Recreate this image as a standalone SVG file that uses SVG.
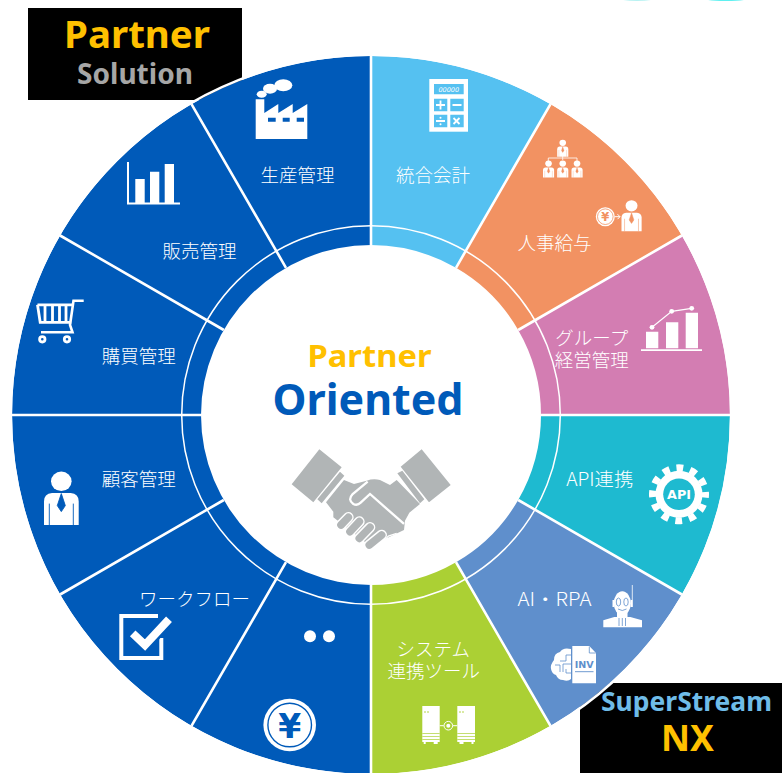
<svg xmlns="http://www.w3.org/2000/svg" width="782" height="773" viewBox="0 0 782 773">
<style>
.lb{font-family:"Noto Sans CJK JP","Liberation Sans",sans-serif;font-size:18.5px;font-weight:300;fill:#fff;text-anchor:middle}
.hd{font-family:"Noto Sans","Liberation Sans",sans-serif;font-weight:700;text-anchor:middle}
.ic{font-family:"DejaVu Sans",sans-serif;font-weight:700;text-anchor:middle}
.w{fill:#fff}
.b{fill:#005ab9}
.sp{stroke:#fff;stroke-width:2.6;fill:none}
.gr{fill:#b1b5b6}
</style>
<defs>
<g id="person">
<ellipse cx="17.3" cy="9.7" rx="10.3" ry="9.7" fill="#fff"/>
<path d="M0 53.4V30q0-8 8-8.5h18.7q8 .5 8 8.5v23.4z" fill="#fff"/>
<path d="M17.3 22l-4 12 4 6 4-6zM5.3 32v21.4M29.3 32v21.4" fill="currentColor" stroke="currentColor" stroke-width=".9"/>
</g>
</defs>
<ellipse cx="637" cy="-3" rx="21" ry="4" fill="#b8f2f2"/>
<ellipse cx="726" cy="-3" rx="27" ry="4" fill="#5ff0f0"/>
<g id="badge-partner-solution">
<rect x="28" y="8" width="214" height="92" fill="#000"/>
<text class="hd" x="137" y="47.5" font-size="37" fill="#ffc000" textLength="146" lengthAdjust="spacingAndGlyphs">Partner</text>
<text class="hd" x="135" y="84" font-size="28" fill="#a6a6a6" textLength="116" lengthAdjust="spacingAndGlyphs">Solution</text>
</g>
<g id="badge-superstream-nx">
<rect x="580" y="683" width="202" height="90" fill="#000"/>
</g>
<g id="wheel-sectors">
<path id="sector-accounting" d="M371 56A359 359 0 0 1 550.5 104.1L456 267.8A170 170 0 0 0 371 245z" fill="#55c1f1"/>
<path id="sector-hr" d="M550.5 104.1A359 359 0 0 1 681.9 235.5L518.2 330A170 170 0 0 0 456 267.8z" fill="#f29262"/>
<path id="sector-group" d="M681.9 235.5A359 359 0 0 1 730 415H541A170 170 0 0 0 518.2 330z" fill="#d37db2"/>
<path id="sector-api" d="M730 415A359 359 0 0 1 681.9 594.5L518.2 500A170 170 0 0 0 541 415z" fill="#1ebad0"/>
<path id="sector-ai" d="M681.9 594.5A359 359 0 0 1 550.5 725.9L456 562.2A170 170 0 0 0 518.2 500z" fill="#5f8fcc"/>
<path id="sector-system" d="M550.5 725.9A359 359 0 0 1 371 774V585A170 170 0 0 0 456 562.2z" fill="#abd034"/>
<path id="sector-left" d="M371 774A359 359 0 1 1 371 56V245A170 170 0 1 0 371 585z" fill="#005ab9"/>
<circle cx="371" cy="415" r="360.2" fill="none" stroke="#fff" stroke-width="2.6"/>
</g>
<g id="connectors">
<circle cx="371" cy="415" r="189.3" fill="none" stroke="#fff" stroke-width="1.5"/>
<path class="sp" d="M371 56V245M550.5 104.1L456 267.8M681.9 235.5L518.2 330M730 415H541M681.9 594.5L518.2 500M550.5 725.9L456 562.2M371 774V585M191.5 725.9L286 562.2M60.1 594.5L223.8 500M12 415H201M60.1 235.5L223.8 330M191.5 104.1L286 267.8"/>
</g>
<g id="node-production">
<path class="w" d="M255.7 99.3h8.6V113l14-9v9l14.4-9v9l14.6-9v35H255.7z"/>
<path class="b" d="M268 117.7h7.7v4H268zM282.7 117.7h7v4h-7zM296.7 117.7h7.3v4h-7.3z"/>
<ellipse class="w" cx="261.7" cy="94.3" rx="5" ry="3.5"/><ellipse class="w" cx="270" cy="88.7" rx="7" ry="5"/><ellipse class="w" cx="283.3" cy="85.3" rx="9" ry="6"/>
<text class="lb" x="297.500" y="181.500">生産管理</text>
</g>
<g id="node-sales">
<path class="w" d="M127 162h2v40.500h51v2h-53zM135.300 179h9.400v23.500h-9.400zM150 171.700h9.300v30.800H150zM164.700 164H174v38.500h-9.300z"/>
<text class="lb" x="199.500" y="258">販売管理</text>
</g>
<g id="node-purchasing">
<path d="M83.700 300.700H73.500L70 325l2.500 7.300H41" fill="none" stroke="#fff" stroke-width="2.600"/>
<path d="M37.500 304.800H72M37.500 304.800l2.700 17.500h31M45 305v17M52.500 305v17M59.500 305v17M66 305v17" fill="none" stroke="#fff" stroke-width="2.800"/>
<circle cx="42.300" cy="339.300" r="2.700" fill="none" stroke="#fff" stroke-width="2.800"/><circle cx="67" cy="339.300" r="2.700" fill="none" stroke="#fff" stroke-width="2.800"/>
<text class="lb" x="138.700" y="362.500">購買管理</text>
</g>
<g id="node-customer">
<use href="#person" transform="translate(44,471.600)" color="#005ab9"/>
<text class="lb" x="138.700" y="485.500">顧客管理</text>
</g>
<g id="node-workflow">
<path d="M158 616H121.300V658H161.300V638" fill="none" stroke="#fff" stroke-width="4"/>
<path d="M132.700 633.300L145 645L169 619.300" fill="none" stroke="#005ab9" stroke-width="13"/>
<path d="M132.700 633.300L145 645L169 619.300" fill="none" stroke="#fff" stroke-width="8"/>
<text class="lb" x="194.500" y="605.500">ワークフロー</text>
</g>
<g id="node-expense">
<circle class="w" cx="310" cy="636.300" r="6"/><circle class="w" cx="329" cy="636.300" r="6"/>
<circle class="w" cx="289.700" cy="725" r="26.300"/>
<circle cx="289.700" cy="725" r="21.800" fill="none" stroke="#005ab9" stroke-width="1.400"/>
<text class="ic" x="289.700" y="737.500" font-size="33" fill="#005ab9">¥</text>
</g>
<g id="node-accounting">
<rect class="w" x="429.300" y="79" width="38.700" height="52.700"/>
<path d="M434 84h29.700v10.300H434zM434 98.700h13.300v12.600H434zM450.300 98.700h13.400v12.600h-13.400zM434 114.700h13.300v12.600H434zM450.300 114.700h13.400v12.600h-13.400z" fill="#55c1f1"/>
<text x="448.800" y="91.700" font-family="'DejaVu Sans',sans-serif" font-style="italic" font-size="6.500" fill="#fff" text-anchor="middle">00000</text>
<path d="M436 105h9M440.500 100.500v9M452.500 105h9M436 121h9M453.500 118l6 6M459.500 118l-6 6" stroke="#fff" stroke-width="1.800" fill="none"/>
<circle class="w" cx="440.500" cy="117.700" r="1"/><circle class="w" cx="440.500" cy="124.300" r="1"/>
<text class="lb" x="433" y="181.500">統合会計</text>
</g>
<g id="node-hr">
<g color="#f29262">
<use href="#person" transform="translate(557.200,139.700) scale(.32)"/>
<use href="#person" transform="translate(543,160.500) scale(.32)"/>
<use href="#person" transform="translate(557.200,160.500) scale(.32)"/>
<use href="#person" transform="translate(571.500,160.500) scale(.32)"/>
<use href="#person" transform="translate(621.500,200.200) scale(.58)"/>
</g>
<path d="M562.700 156v4M548.300 161v-3h28.700v3" fill="none" stroke="#fff" stroke-width=".8"/>
<circle class="w" cx="605.300" cy="216.700" r="9.500"/>
<circle cx="605.300" cy="216.700" r="7.800" fill="none" stroke="#f29262" stroke-width=".8"/>
<text class="ic" x="605.300" y="221" font-size="11.500" fill="#f29262">¥</text>
<path d="M615 216.700h5M617.500 214.200l2.500 2.500-2.500 2.500" fill="none" stroke="#fff" stroke-width="1"/>
<text class="lb" x="554.500" y="249.500">人事給与</text>
</g>
<g id="node-group">
<path class="w" d="M646 331.700h12.300v16.600H646zM666 322.300h12.300v26H666zM685.700 312.700H698v35.600h-12.300zM641 349.300h61v1.600h-61z"/>
<path d="M652 327.300L671.700 311.300L691.700 308.300" fill="none" stroke="#fff" stroke-width="1.200"/>
<circle class="w" cx="652" cy="327.300" r="2.400"/><circle class="w" cx="671.700" cy="311.300" r="2.400"/><circle class="w" cx="691.700" cy="308.300" r="2.400"/>
<text class="lb" x="591.700" y="344.500">グループ</text>
<text class="lb" x="591.700" y="366.500">経営管理</text>
</g>
<g id="node-api">
<circle class="w" cx="679" cy="494.300" r="23.500"/>
<circle cx="679" cy="494.300" r="26.500" fill="none" stroke="#fff" stroke-width="7" stroke-dasharray="6.940 6.940" stroke-dashoffset="3.470"/>
<circle cx="679" cy="494.300" r="15.800" fill="#1ebad0"/>
<text class="ic" x="679" y="499" font-size="12.500" fill="#fff" textLength="24" lengthAdjust="spacingAndGlyphs">API</text>
<text class="lb" x="599.700" y="485.500" textLength="67" lengthAdjust="spacingAndGlyphs">API連携</text>
</g>
<g id="node-ai">
<path class="w" d="M603.300 627.300v-7l11-3.300h16l11.700 3.300v7z"/>
<ellipse class="w" cx="622.300" cy="603.300" rx="8.500" ry="12"/>
<path class="w" d="M612.500 600h2v7h-2zM630.500 600h2v7h-2zM617 612h10.500v6H617z"/>
<path d="M632.300 585v22" stroke="#fff" stroke-width=".8"/>
<ellipse cx="618.500" cy="602" rx="2.200" ry="4" fill="none" stroke="#5f8fcc" stroke-width=".8"/>
<ellipse cx="626" cy="602" rx="2.200" ry="4" fill="none" stroke="#5f8fcc" stroke-width=".8"/>
<path d="M618 609q4.300 3 8.500 0M619 618v8M622.300 618v8M625.500 618v8" fill="none" stroke="#5f8fcc" stroke-width=".8"/>
<path class="w" d="M572.300 646h17l6.700 7v30.300h-23.700z"/>
<path d="M589.300 646.500v6.500h6.500" fill="none" stroke="#5f8fcc" stroke-width=".8"/>
<text class="ic" x="584.300" y="668.300" font-size="9" fill="#5f8fcc" textLength="19" lengthAdjust="spacingAndGlyphs">INV</text>
<path d="M575 671.700h18.500" stroke="#5f8fcc" stroke-width=".9"/>
<path class="w" d="M571 649q-8-2-11 3-6 1-6 8-4 5-3 9 1 5 5 6 2 5 7 5 5 2 8-1z"/>
<path d="M571 655h-5v6h-6M571 664h-8v8M571 673h-5v-4M555 665h5v7" fill="none" stroke="#5f8fcc" stroke-width=".8"/>
<text class="lb" x="554.500" y="606" textLength="74" lengthAdjust="spacingAndGlyphs">AI・RPA</text>
</g>
<g id="node-system">
<path class="w" d="M422.300 706h17.400v36h-2v2h-4v-2h-8v2h-2v-2h-1.400zM457.300 706H475v36h-1.500v2h-2v-2h-8v2h-4v-2h-2.200z"/>
<path d="M424 712h2M427 712h2M459 712h2M462 712h2" stroke="#abd034" stroke-width=".9"/>
<path d="M422.300 733.500h17.400M422.300 736.500h17.400M422.300 739.500h17.400M457.300 733.500H475M457.300 736.500H475M457.300 739.500H475" stroke="#abd034" stroke-width=".7"/>
<path d="M439.700 725.700h4M453 725.700h4.300" stroke="#fff" stroke-width="1"/>
<circle cx="448.300" cy="725.700" r="4.300" fill="none" stroke="#fff" stroke-width="1"/>
<circle class="w" cx="448.300" cy="725.700" r="2"/>
<text class="lb" x="433.300" y="655.500">システム</text>
<text class="lb" x="433.700" y="677.500">連携ツール</text>
</g>
<g id="node-center">
<text class="hd" x="369.500" y="367" font-size="31" fill="#ffc000" textLength="124" lengthAdjust="spacingAndGlyphs">Partner</text>
<text class="hd" x="368" y="414.700" font-size="43" fill="#005ab9" textLength="191" lengthAdjust="spacingAndGlyphs">Oriented</text>
<g transform="translate(200,330) scale(.33333)">
<path class="gr" d="M358 358L425 412L340 517L275 463zM420 425L433 437L365 520L352 508zM665 358L752 465L687 517L602 410zM592 430L607 422L673 508L660 520z"/>
<path class="gr" d="M432 450L378 517L400 545L400 562L500 640L560 625L612 600L615 572L628 548L660 522L590 450L570 465L540 450Q520 445 500 452L462 462z"/>
<g fill="none" stroke-linecap="round">
<path d="M423 585L445 562M450 605L478 575M478 625L510 592M508 645L545 615" stroke="#fff" stroke-width="32"/>
<path d="M423 585L445 562M450 605L478 575M478 625L510 592M508 645L545 615" stroke="#b1b5b6" stroke-width="23"/>
</g>
<path d="M503 455L458 492Q442 510 460 522Q472 528 482 518L510 492L612 582" fill="none" stroke="#fff" stroke-width="7"/>
<path d="M545 640L565 618L590 610" fill="none" stroke="#fff" stroke-width="4"/>
</g>
</g>
<text class="hd" x="686.500" y="711" font-size="26" fill="#6fbce8" textLength="171" lengthAdjust="spacingAndGlyphs">SuperStream</text>
<text class="hd" x="687.500" y="750.700" font-size="36" fill="#ffc000" textLength="53" lengthAdjust="spacingAndGlyphs">NX</text>
</svg>
